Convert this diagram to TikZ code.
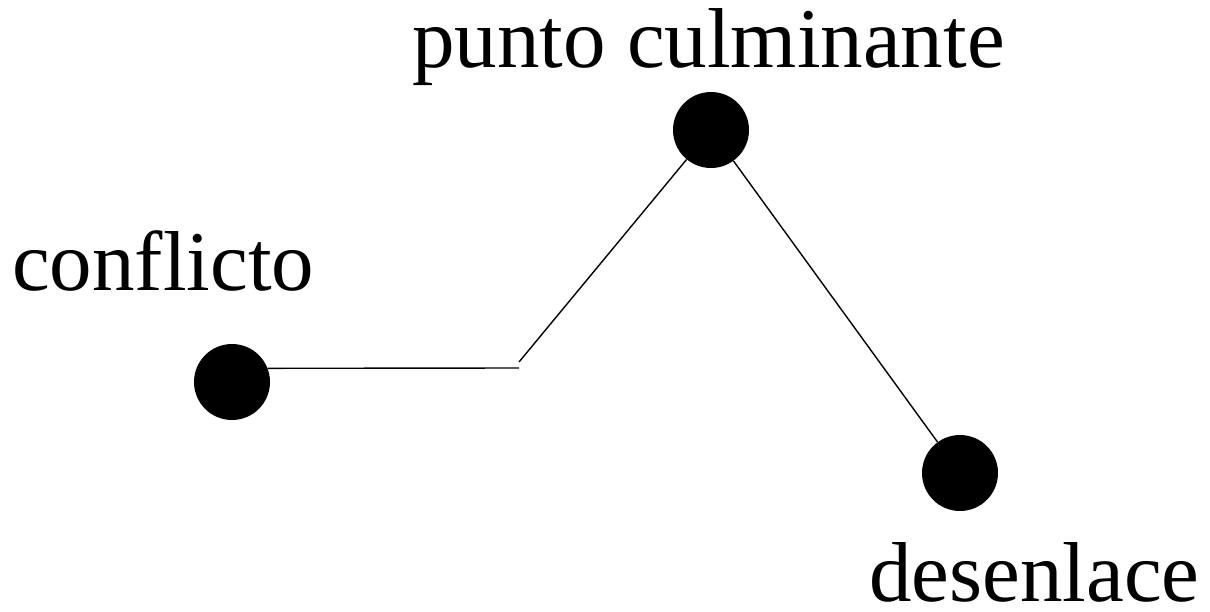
\documentclass[tikz,border=0pt]{standalone}
\usepackage{fontspec}
\setmainfont{Liberation Serif}
\begin{document}
\begin{tikzpicture}[x=1pt,y=-1pt,
  dot/.style={circle,fill=black,inner sep=0pt,minimum size=76pt},
  lbl/.style={anchor=base west,inner sep=0pt,font=\fontsize{85}{100}\selectfont},
  conn/.style={line width=1.4pt}]
\useasboundingbox (0,0) rectangle (1210,611);
\node[dot] (c1) at (232,382) {};
\node[dot] (c2) at (711,130) {};
\node[dot] (c3) at (960,473) {};
\coordinate (j1) at (519,368);
\coordinate (j2) at (519,362);
\node[lbl] (t2) at (412,67) {punto culminante};
\node[lbl] (t1) at (12,290) {conflicto};
\node[lbl,text depth=0pt] (t3) at (869,601) {desenlace};
\draw[conn] (c1.21.6) -- (j1);
\draw[conn] (j2) -- (c2);
\draw[conn] (c2) -- (c3);
\end{tikzpicture}
\end{document}
